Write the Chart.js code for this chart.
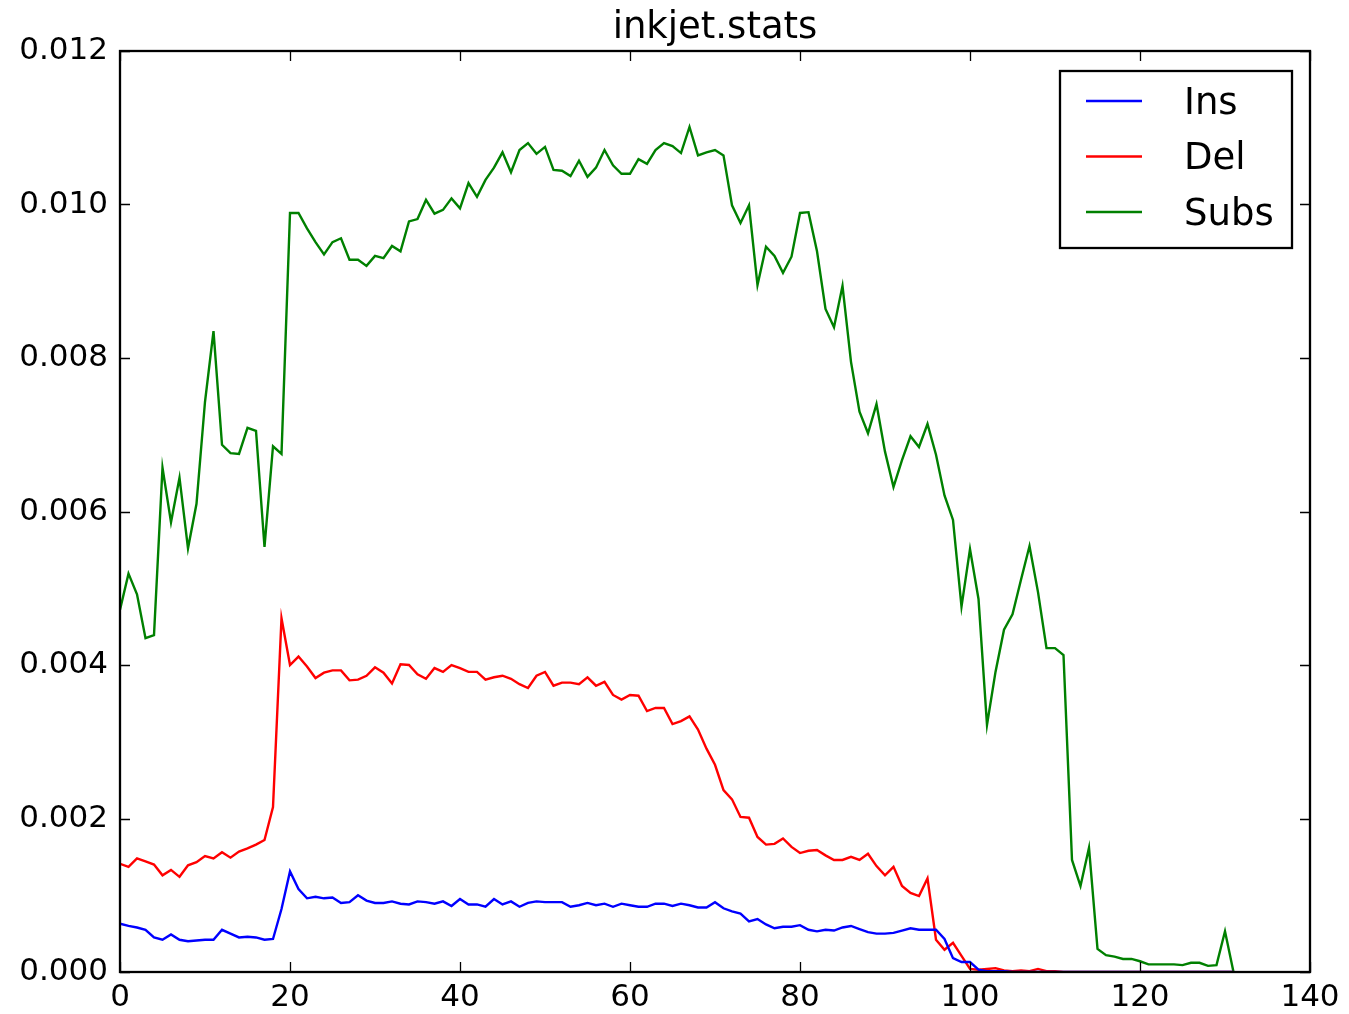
<!DOCTYPE html>
<html>
<head>
<meta charset="utf-8">
<title>inkjet.stats</title>
<script src="https://cdn.jsdelivr.net/npm/chart.js@4.4.1/dist/chart.umd.min.js"></script>
<style>
  html, body { margin: 0; padding: 0; background: #fff; }
  canvas { display: block; }
</style>
</head>
<body>
<canvas id="grafico" width="1349" height="1014"></canvas>
<script>
"use strict";
/* inkjet.stats - tasas de ins / del / subs por posicion */

var titulo = "inkjet.stats";
var etiquetas = ["Ins", "Del", "Subs"];
var colores = ["#0000ff", "#ff0000", "#008000"];
var ticksX = [0, 20, 40, 60, 80, 100, 120, 140];
var ticksY = [0, 0.002, 0.004, 0.006, 0.008, 0.010, 0.012];

var ins = [
  0.00063, 0.00060, 0.00058, 0.00055, 0.00045, 0.00042, 0.00049, 0.00042, 0.00040, 0.00041,
  0.00042, 0.00042, 0.00055, 0.00050, 0.00045, 0.00046, 0.00045, 0.00042, 0.00043, 0.00082,
  0.00131, 0.00108, 0.00096, 0.00098, 0.00096, 0.00097, 0.00090, 0.00091, 0.00100, 0.00093,
  0.00090, 0.00090, 0.00092, 0.00089, 0.00088, 0.00092, 0.00091, 0.00089, 0.00092, 0.00086,
  0.00095, 0.00088, 0.00088, 0.00085, 0.00095, 0.00088, 0.00092, 0.00085, 0.00090, 0.00092,
  0.00091, 0.00091, 0.00091, 0.00085, 0.00087, 0.00090, 0.00087, 0.00089, 0.00085, 0.00089,
  0.00087, 0.00085, 0.00085, 0.00089, 0.00089, 0.00086, 0.00089, 0.00087, 0.00084, 0.00084,
  0.00091, 0.00083, 0.00079, 0.00076, 0.00066, 0.00069, 0.00062, 0.00057, 0.00059, 0.00059,
  0.00061, 0.00055, 0.00053, 0.00055, 0.00054, 0.00058, 0.00060, 0.00056, 0.00052, 0.00050,
  0.00050, 0.00051, 0.00054, 0.00057, 0.00055, 0.00055, 0.00055, 0.00043, 0.00018, 0.00013,
  0.00013, 0.00003, 0.00001, 0.00001, 0.00001, 0, 0, 0, 0, 0,
  0, 0, 0, 0, 0, 0, 0, 0, 0, 0,
  0, 0, 0, 0, 0, 0, 0, 0, 0, 0,
  0, 0
];

var del = [
  0.00141, 0.00137, 0.00148, 0.00144, 0.00140, 0.00126, 0.00133, 0.00124, 0.00139, 0.00143,
  0.00151, 0.00148, 0.00156, 0.00149, 0.00157, 0.00161, 0.00166, 0.00172, 0.00215, 0.00461,
  0.00400, 0.00411, 0.00398, 0.00383, 0.00390, 0.00393, 0.00393, 0.00380, 0.00381, 0.00386,
  0.00397, 0.00390, 0.00376, 0.00401, 0.00400, 0.00388, 0.00382, 0.00396, 0.00391, 0.00400,
  0.00396, 0.00391, 0.00391, 0.00381, 0.00384, 0.00386, 0.00382, 0.00375, 0.00370, 0.00386,
  0.00391, 0.00373, 0.00377, 0.00377, 0.00375, 0.00384, 0.00373, 0.00378, 0.00361, 0.00355,
  0.00361, 0.00360, 0.00340, 0.00344, 0.00344, 0.00323, 0.00327, 0.00333, 0.00316, 0.00291,
  0.00270, 0.00237, 0.00225, 0.00202, 0.00201, 0.00176, 0.00166, 0.00167, 0.00174, 0.00163,
  0.00155, 0.00158, 0.00159, 0.00152, 0.00146, 0.00146, 0.00150, 0.00146, 0.00154, 0.00138,
  0.00126, 0.00137, 0.00112, 0.00103, 0.00099, 0.00122, 0.00042, 0.00029, 0.00038, 0.00021,
  0.00004, 0.00003, 0.00004, 0.00005, 0.00002, 0.00001, 0.00002, 0.00001, 0.00004, 0.00001,
  0.00001, 0, 0, 0, 0, 0, 0, 0, 0, 0,
  0, 0, 0, 0, 0, 0, 0, 0, 0, 0,
  0, 0
];

var subs = [
  0.00472, 0.00519, 0.00492, 0.00435, 0.00439, 0.00657, 0.00586, 0.00644, 0.00552, 0.00610,
  0.00743, 0.00835, 0.00687, 0.00676, 0.00675, 0.00709, 0.00705, 0.00554, 0.00685, 0.00675,
  0.00989, 0.00989, 0.00969, 0.00951, 0.00935, 0.00951, 0.00956, 0.00928, 0.00928, 0.00920,
  0.00933, 0.00930, 0.00946, 0.00939, 0.00978, 0.00981, 0.01006, 0.00988, 0.00993, 0.01008,
  0.00995, 0.01028, 0.01010, 0.01032, 0.01048, 0.01068, 0.01042, 0.01071, 0.01080, 0.01066,
  0.01075, 0.01045, 0.01044, 0.01037, 0.01057, 0.01036, 0.01048, 0.01071, 0.01051, 0.01040,
  0.01040, 0.01059, 0.01053, 0.01071, 0.01080, 0.01076, 0.01067, 0.01101, 0.01064, 0.01068,
  0.01071, 0.01064, 0.00999, 0.00976, 0.00999, 0.00895, 0.00945, 0.00933, 0.00911, 0.00932,
  0.00989, 0.00990, 0.00939, 0.00864, 0.00840, 0.00894, 0.00795, 0.00730, 0.00702, 0.00740,
  0.00678, 0.00632, 0.00667, 0.00698, 0.00684, 0.00714, 0.00674, 0.00621, 0.00589, 0.00476,
  0.00551, 0.00486, 0.00322, 0.00391, 0.00446, 0.00466, 0.00511, 0.00555, 0.00495, 0.00422,
  0.00422, 0.00413, 0.00146, 0.00112, 0.00162, 0.00030, 0.00022, 0.00020, 0.00017, 0.00017,
  0.00014, 0.00010, 0.00010, 0.00010, 0.00010, 0.00009, 0.00012, 0.00012, 0.00008, 0.00009,
  0.00053, 0
];

// posiciones 0..n-1 del eje x
var posiciones = [];
for (var i = 0; i < subs.length; i++) { posiciones.push(i); }

var fuente = "'DejaVu Sans', sans-serif";
Chart.defaults.font.family = fuente;
Chart.defaults.color = "#000";

// marco, ticks hacia adentro y leyenda estilo matplotlib
var marcoPlugin = {
  id: "marco",
  afterDraw: function (chart) {
    var ctx = chart.ctx;
    var a = chart.chartArea;
    var sx = chart.scales.x;
    var sy = chart.scales.y;
    ctx.save();
    ctx.strokeStyle = "#000";
    ctx.lineWidth = 1.3;
    ctx.beginPath();
    ticksX.forEach(function (v) {
      var px = Math.round(sx.getPixelForValue(v)) + 0.5;
      ctx.moveTo(px, a.bottom); ctx.lineTo(px, a.bottom - 10);
      ctx.moveTo(px, a.top); ctx.lineTo(px, a.top + 10);
    });
    ticksY.forEach(function (v) {
      var py = Math.round(sy.getPixelForValue(v)) + 0.5;
      ctx.moveTo(a.left, py); ctx.lineTo(a.left + 10, py);
      ctx.moveTo(a.right, py); ctx.lineTo(a.right - 10, py);
    });
    ctx.stroke();
    ctx.lineWidth = 2.3;
    ctx.strokeRect(a.left, a.top, a.right - a.left, a.bottom - a.top);

    // leyenda
    var bx = 1060, by = 71, bw = 232, bh = 177;
    ctx.fillStyle = "#fff";
    ctx.fillRect(bx, by, bw, bh);
    ctx.lineWidth = 2.3;
    ctx.strokeRect(bx, by, bw, bh);
    ctx.font = "37px " + fuente;
    ctx.textBaseline = "middle";
    ctx.textAlign = "left";
    chart.data.datasets.forEach(function (ds, k) {
      var y = by + 30 + k * 55.5;
      ctx.strokeStyle = ds.borderColor;
      ctx.lineWidth = 2.3;
      ctx.beginPath();
      ctx.moveTo(bx + 26, y); ctx.lineTo(bx + 82, y);
      ctx.stroke();
      ctx.fillStyle = "#000";
      ctx.fillText(ds.label, bx + 124, y + 3);
    });
    ctx.restore();
  }
};

var series = [ins, del, subs];
var datasets = series.map(function (s, k) {
  return {
    label: etiquetas[k],
    data: s,
    borderColor: colores[k],
    backgroundColor: colores[k],
    borderWidth: 2.4,
    pointRadius: 0,
    tension: 0,
    fill: false
  };
});

new Chart(document.getElementById("grafico").getContext("2d"), {
  type: "line",
  data: { labels: posiciones, datasets: datasets },
  plugins: [marcoPlugin],
  options: {
    responsive: false,
    animation: false,
    layout: { padding: { left: 0, right: 39, top: 0, bottom: 0 } },
    plugins: {
      legend: { display: false },
      tooltip: { enabled: false },
      title: {
        display: true,
        fullSize: false,
        text: titulo,
        color: "#000",
        font: { family: fuente, size: 37, weight: "normal" },
        padding: { top: 6.6, bottom: 0 }
      }
    },
    scales: {
      x: {
        type: "linear",
        min: 0,
        max: 140,
        grid: { display: false, drawTicks: false },
        border: { display: false },
        ticks: { font: { size: 31 }, padding: 7, maxRotation: 0 },
        afterBuildTicks: function (s) { s.ticks = ticksX.map(function (v) { return { value: v }; }); },
        afterFit: function (s) { s.height = 42; }
      },
      y: {
        min: 0,
        max: 0.012,
        grid: { display: false, drawTicks: false },
        border: { display: false },
        ticks: {
          font: { size: 31 },
          padding: 12,
          callback: function (v) { return v.toFixed(3); }
        },
        afterBuildTicks: function (s) { s.ticks = ticksY.map(function (v) { return { value: v }; }); },
        afterFit: function (s) { s.width = 120; }
      }
    }
  }
});
</script>
</body>
</html>
